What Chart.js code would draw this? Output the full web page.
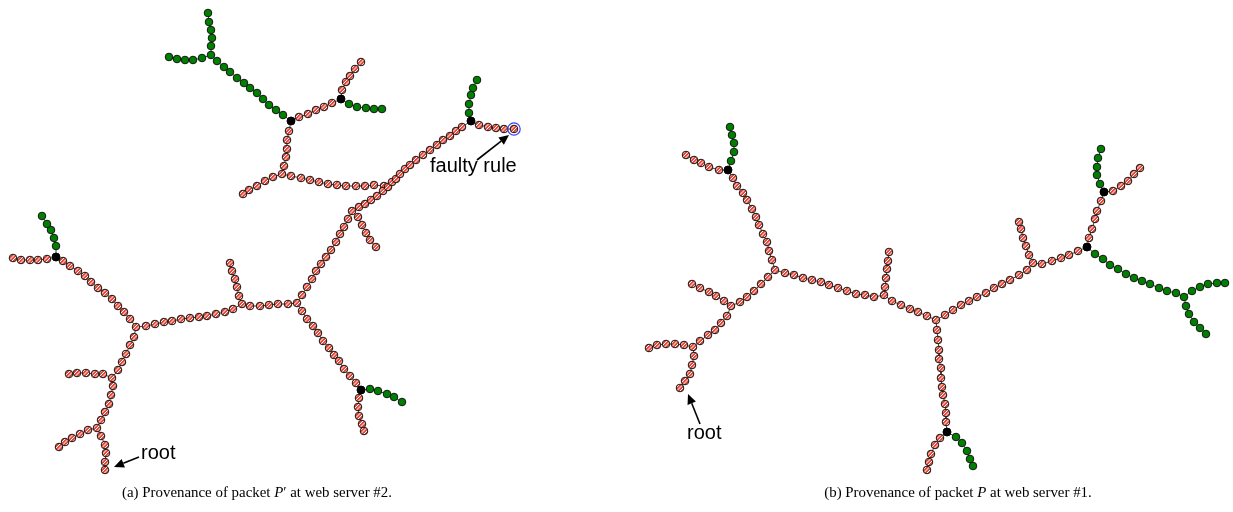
<!DOCTYPE html>
<html>
<head>
<meta charset="utf-8">
<script src="https://cdn.jsdelivr.net/npm/chart.js@4.4.1/dist/chart.umd.min.js"></script>
<style>
  body { margin: 0; background: #fff; }
  #wrap { position: relative; width: 1233px; height: 512px; overflow: hidden; }
  .lbl { position: absolute; font-family: "Liberation Sans", Arial, sans-serif; font-size: 20px; line-height: 20px; color: #000; white-space: nowrap; }
  .cap { position: absolute; top: 485px; font-family: "Liberation Serif", "Times New Roman", serif; font-size: 14.9px; line-height: 14.9px; white-space: nowrap; transform: translateX(-50%); }
</style>
</head>
<body>
<div id="wrap">
  <canvas id="tree" width="1233" height="512"></canvas>
  <span class="lbl" style="left:430px; top:155px;">faulty rule</span>
  <span class="lbl" style="left:141px; top:442px;">root</span>
  <span class="lbl" style="left:687px; top:422px;">root</span>
  <div class="cap" style="left:257px;">(a) Provenance of packet <i>P</i>′ at web server #2.</div>
  <div class="cap" style="left:958px;">(b) Provenance of packet <i>P</i> at web server #1.</div>
</div>
<script>
// ---- tree (a): provenance of P' at web server #2 ----
const aTrunk1 = [[105,470],[105,462],[106,453],[105,445],[101,436],[97,428]];
const aLeaf1 = [[88,430],[80,434],[72,438],[65,442],[59,447]];
const aTrunk2 = [[101,420],[105,412],[109,404],[111,395],[113,386],[112,378]];
const aLeaf2 = [[103,374],[95,374],[86,373],[77,373],[69,374]];
const aTrunk3 = [[118,370],[122,362],[126,354],[130,345],[134,337],[136,327]];
const aBranchNW = [[130,319],[124,312],[118,306],[112,299],[105,293],[98,288],[91,282],[85,276],[78,271],[70,266],[63,261],[56,257]];
const aLeaf3 = [[47,259],[38,260],[30,260],[21,260],[13,258]];
const aGreen1 = [[56,246],[54,238],[51,230],[47,224],[42,216]];
const aTrunk4 = [[146,326],[155,324],[164,322],[172,321],[181,319],[190,318],[199,317],[207,316],[216,314],[225,312],[233,309],[242,304]];
const aLeaf4 = [[239,296],[237,287],[235,279],[232,271],[230,263]];
const aTrunk5 = [[250,306],[260,306],[269,305],[278,304],[288,304],[297,303]];
const aBranchSE = [[302,311],[307,319],[313,326],[318,333],[323,341],[329,348],[334,355],[339,361],[344,369],[350,376],[356,383],[361,390]];
const aGreen2 = [[370,389],[378,391],[387,394],[394,397],[402,402]];
const aLeaf5 = [[359,398],[358,407],[359,416],[362,424],[364,431]];
const aTrunk6 = [[302,295],[307,287],[312,279],[316,271],[321,264],[326,257],[331,250],[336,242],[340,234],[344,227],[348,219],[352,211]];
const aLeaf6 = [[358,217],[362,225],[366,233],[370,240],[376,247]];
const aTrunk7 = [[359,207],[365,204],[371,200],[377,196],[383,191],[388,187],[392,182],[396,179],[400,174],[405,169],[410,165],[416,160],[423,155],[430,150],[437,145],[443,140],[450,136],[456,131],[462,127],[471,121]];
const aGreen3 = [[469,113],[469,104],[471,95],[473,88],[477,80]];
const aFaulty = [[479,125],[488,127],[496,128],[504,129],[514,129]];
const aBranchW = [[384,186],[374,185],[365,186],[356,186],[346,186],[337,185],[328,184],[319,182],[310,180],[301,178],[291,176],[282,174]];
const aLeaf7 = [[273,177],[265,181],[257,186],[249,190],[243,194]];
const aBranchN = [[284,166],[286,157],[287,149],[287,140],[289,131],[291,121]];
const aPinkNE = [[299,117],[308,114],[316,110],[324,107],[332,103],[341,99]];
const aLeaf8 = [[342,90],[346,82],[350,76],[355,69],[361,62]];
const aGreen4 = [[349,104],[357,107],[366,108],[374,109],[382,109]];
const aGreen5 = [[283,115],[276,110],[269,105],[263,99],[257,93],[250,88],[244,83],[237,78],[230,72],[224,67],[217,61],[211,55]];
const aGreen6 = [[211,46],[212,38],[211,30],[209,22],[208,13]];
const aGreen7 = [[202,58],[193,60],[185,60],[177,59],[169,57]];

// ---- tree (b): provenance of P at web server #1 ----
const bTrunk1 = [[680,388],[685,381],[690,374],[692,365],[694,356],[693,347]];
const bLeaf1 = [[684,345],[675,344],[666,344],[657,345],[649,348]];
const bTrunk2 = [[700,341],[708,335],[715,330],[721,323],[727,316],[731,306]];
const bLeaf2 = [[724,301],[716,296],[709,292],[700,288],[692,284]];
const bTrunk3 = [[740,302],[747,297],[754,291],[761,284],[768,277],[775,270]];
const bBranchNW = [[772,260],[769,251],[767,242],[763,234],[759,225],[756,217],[752,209],[747,200],[743,193],[737,186],[733,178],[728,170]];
const bLeaf3 = [[719,170],[709,167],[701,163],[694,160],[686,155]];
const bGreen1 = [[731,161],[734,152],[734,143],[732,135],[730,127]];
const bTrunk4 = [[785,273],[794,275],[803,278],[812,280],[821,282],[829,285],[838,288],[847,291],[856,294],[865,295],[874,297],[884,295]];
const bLeaf4 = [[885,287],[886,278],[887,269],[888,261],[889,252]];
const bTrunk5 = [[892,301],[901,305],[910,309],[918,312],[927,316],[936,320]];
const bBranchS = [[937,330],[938,340],[939,350],[939,359],[941,368],[941,378],[942,387],[943,395],[945,404],[946,413],[946,422],[947,432]];
const bLeaf5 = [[940,438],[935,445],[931,454],[929,462],[927,470]];
const bGreen2 = [[956,437],[962,443],[967,451],[970,459],[973,466]];
const bTrunk6 = [[945,315],[953,310],[961,305],[969,301],[977,297],[986,293],[994,288],[1002,284],[1010,280],[1019,275],[1027,270],[1033,263]];
const bLeaf6 = [[1029,255],[1026,246],[1023,238],[1021,229],[1019,222]];
const bTrunk7 = [[1042,264],[1052,261],[1061,258],[1069,255],[1078,251],[1087,247]];
const bBranchN = [[1089,238],[1092,229],[1095,219],[1097,211],[1101,201],[1104,192]];
const bGreen3 = [[1100,184],[1097,175],[1097,167],[1098,158],[1101,149]];
const bLeaf7 = [[1113,191],[1121,186],[1128,181],[1134,174],[1140,168]];
const bGreen4 = [[1095,254],[1103,259],[1110,265],[1118,269],[1126,274],[1134,278],[1142,281],[1150,284],[1159,288],[1167,291],[1176,293],[1184,297]];
const bGreen5 = [[1192,291],[1200,287],[1208,284],[1217,283],[1225,283]];
const bGreen6 = [[1186,306],[1189,314],[1194,322],[1200,328],[1206,334]];

// junction nodes drawn in black, and the faulty rule node
const blackNodes = [aBranchNW.at(-1), aBranchSE.at(-1), aTrunk7.at(-1), aBranchN.at(-1), aPinkNE.at(-1),
                    bBranchNW.at(-1), bBranchS.at(-1), bTrunk7.at(-1), bBranchN.at(-1)];
const faultyNode = [aFaulty.at(-1)];

// branch list: points, colour kind, parent node the branch hangs from
const branches = [
  [aTrunk1, "pink", null],
  [aLeaf1, "pink", aTrunk1.at(-1)],
  [aTrunk2, "pink", aTrunk1.at(-1)],
  [aLeaf2, "pink", aTrunk2.at(-1)],
  [aTrunk3, "pink", aTrunk2.at(-1)],
  [aBranchNW, "pink", aTrunk3.at(-1)],
  [aLeaf3, "pink", aBranchNW.at(-1)],
  [aGreen1, "green", aBranchNW.at(-1)],
  [aTrunk4, "pink", aTrunk3.at(-1)],
  [aLeaf4, "pink", aTrunk4.at(-1)],
  [aTrunk5, "pink", aTrunk4.at(-1)],
  [aBranchSE, "pink", aTrunk5.at(-1)],
  [aGreen2, "green", aBranchSE.at(-1)],
  [aLeaf5, "pink", aBranchSE.at(-1)],
  [aTrunk6, "pink", aTrunk5.at(-1)],
  [aLeaf6, "pink", aTrunk6.at(-1)],
  [aTrunk7, "pink", aTrunk6.at(-1)],
  [aGreen3, "green", aTrunk7.at(-1)],
  [aFaulty, "pink", aTrunk7.at(-1)],
  [aBranchW, "pink", aTrunk7[6]],
  [aLeaf7, "pink", aBranchW.at(-1)],
  [aBranchN, "pink", aBranchW.at(-1)],
  [aPinkNE, "pink", aBranchN.at(-1)],
  [aLeaf8, "pink", aPinkNE.at(-1)],
  [aGreen4, "green", aPinkNE.at(-1)],
  [aGreen5, "green", aBranchN.at(-1)],
  [aGreen6, "green", aGreen5.at(-1)],
  [aGreen7, "green", aGreen5.at(-1)],

  [bTrunk1, "pink", null],
  [bLeaf1, "pink", bTrunk1.at(-1)],
  [bTrunk2, "pink", bTrunk1.at(-1)],
  [bLeaf2, "pink", bTrunk2.at(-1)],
  [bTrunk3, "pink", bTrunk2.at(-1)],
  [bBranchNW, "pink", bTrunk3.at(-1)],
  [bLeaf3, "pink", bBranchNW.at(-1)],
  [bGreen1, "green", bBranchNW.at(-1)],
  [bTrunk4, "pink", bTrunk3.at(-1)],
  [bLeaf4, "pink", bTrunk4.at(-1)],
  [bTrunk5, "pink", bTrunk4.at(-1)],
  [bBranchS, "pink", bTrunk5.at(-1)],
  [bLeaf5, "pink", bBranchS.at(-1)],
  [bGreen2, "green", bBranchS.at(-1)],
  [bTrunk6, "pink", bTrunk5.at(-1)],
  [bLeaf6, "pink", bTrunk6.at(-1)],
  [bTrunk7, "pink", bTrunk6.at(-1)],
  [bBranchN, "pink", bTrunk7.at(-1)],
  [bGreen3, "green", bBranchN.at(-1)],
  [bLeaf7, "pink", bBranchN.at(-1)],
  [bGreen4, "green", bTrunk7.at(-1)],
  [bGreen5, "green", bGreen4.at(-1)],
  [bGreen6, "green", bGreen4.at(-1)],
];

// arrows for the labels: [fromX, fromY, toX, toY]
const arrows = [[477, 160, 509, 135], [139, 457, 114, 467], [700, 424, 688, 394]];

// red with white diagonal hatching
function makeHatch() {
  const c = document.createElement("canvas");
  c.width = 7; c.height = 7;
  const g = c.getContext("2d");
  g.fillStyle = "#e5493a";
  g.fillRect(0, 0, 7, 7);
  g.strokeStyle = "#ffffff";
  g.lineWidth = 1;
  for (let k = -7; k <= 21; k += 3.5) {
    g.beginPath();
    g.moveTo(k + 7, -7);
    g.lineTo(k - 7, 7);
    g.stroke();
  }
  return g.createPattern(c, "repeat");
}
const hatch = makeHatch();

const toXY = (pts) => pts.map(([x, y]) => ({ x, y }));

const branchSets = branches.map(([pts, kind, parent]) => ({
  data: toXY(parent ? [parent, ...pts] : pts),
  showLine: true,
  borderColor: "#111",
  borderWidth: 0.8,
  pointStyle: "circle",
  pointRadius: (ctx) => (parent && ctx.dataIndex === 0 ? 0 : 3.8),
  pointBackgroundColor: kind === "green" ? "#008000" : hatch,
  pointBorderColor: "#151515",
  pointBorderWidth: 1,
  clip: false,
}));

const arrowPlugin = {
  id: "arrows",
  afterDatasetsDraw(chart) {
    const { ctx, scales } = chart;
    ctx.save();
    ctx.strokeStyle = "#000";
    ctx.fillStyle = "#000";
    ctx.lineWidth = 1.6;
    arrows.forEach(([x1, y1, x2, y2]) => {
      const px1 = scales.x.getPixelForValue(x1), py1 = scales.y.getPixelForValue(y1);
      const px2 = scales.x.getPixelForValue(x2), py2 = scales.y.getPixelForValue(y2);
      const a = Math.atan2(py2 - py1, px2 - px1);
      const hl = 10, hw = 4.5;
      const bx = px2 - hl * Math.cos(a), by = py2 - hl * Math.sin(a);
      ctx.beginPath();
      ctx.moveTo(px1, py1);
      ctx.lineTo(bx, by);
      ctx.stroke();
      ctx.beginPath();
      ctx.moveTo(px2, py2);
      ctx.lineTo(bx + hw * Math.sin(a), by - hw * Math.cos(a));
      ctx.lineTo(bx - hw * Math.sin(a), by + hw * Math.cos(a));
      ctx.closePath();
      ctx.fill();
    });
    ctx.restore();
  },
};

new Chart(document.getElementById("tree"), {
  type: "scatter",
  data: {
    datasets: [
      {
        data: toXY(faultyNode),
        pointRadius: 6.2,
        pointBackgroundColor: "rgba(0,0,0,0)",
        pointBorderColor: "#3a3aff",
        pointBorderWidth: 1.2,
        clip: false,
      },
      {
        data: toXY(blackNodes),
        pointRadius: 3.9,
        pointBackgroundColor: "#000",
        pointBorderColor: "#000",
        pointBorderWidth: 1,
        clip: false,
      },
      ...branchSets,
    ],
  },
  options: {
    responsive: false,
    animation: false,
    devicePixelRatio: 1,
    layout: { padding: 0, autoPadding: false },
    plugins: { legend: { display: false }, tooltip: { enabled: false } },
    scales: {
      x: { type: "linear", min: 0, max: 1233, display: false },
      y: { type: "linear", min: 0, max: 512, reverse: true, display: false },
    },
  },
  plugins: [arrowPlugin],
});
</script>
</body>
</html>
